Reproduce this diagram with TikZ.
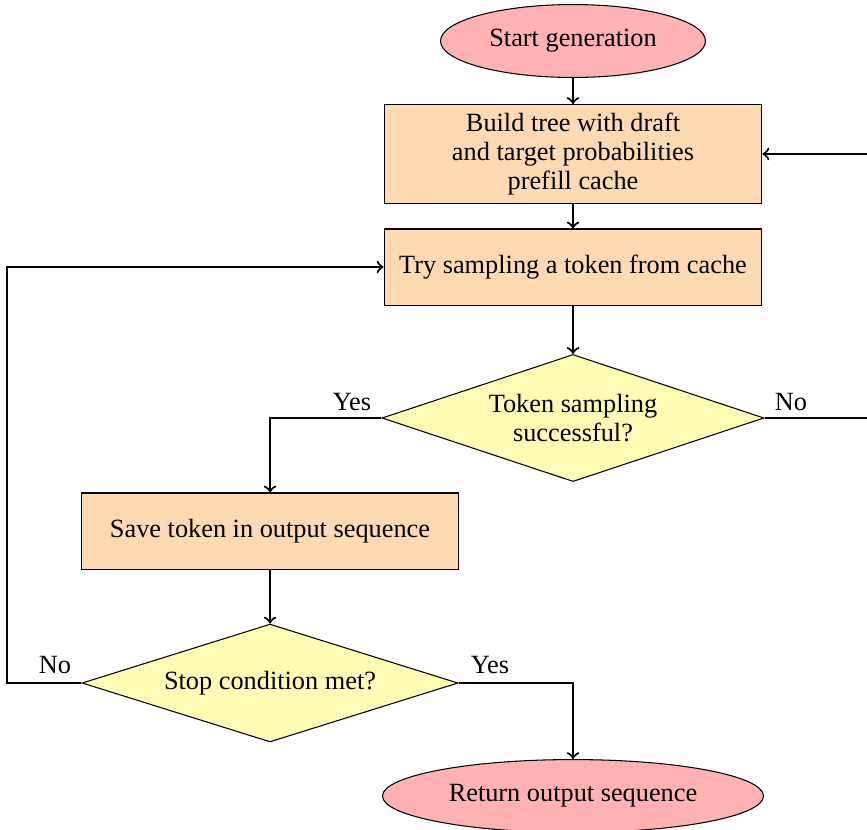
\documentclass[tikz,border=0pt]{standalone}
\usepackage{fontspec}
\setmainfont{Liberation Serif}
\usetikzlibrary{shapes.geometric}
\begin{document}
\begin{tikzpicture}[x=0.38pt,y=-0.38pt,
  term/.style={ellipse,draw,fill=red!30,inner sep=0pt,font=\fontsize{10}{11}\selectfont},
  proc/.style={rectangle,draw,fill=orange!30,inner sep=0pt,align=center,minimum width=143.6pt,font=\fontsize{10}{11}\selectfont},
  dec/.style={diamond,draw,fill=yellow!30,inner sep=0pt,align=center,aspect=3,font=\fontsize{10}{11}\selectfont},
  conn/.style={draw,thick,->},
  lbl/.style={font=\fontsize{10}{11}\selectfont,inner sep=0pt}]
\useasboundingbox (0,0) rectangle (867,829);
\node[term,minimum width=100.7pt,minimum height=27.7pt] (start) at (573,41) {Start generation};
\node[proc,minimum height=37.6pt] (build) at (573,154) {Build tree with draft\\and target probabilities\\prefill cache};
\node[proc,minimum height=28.9pt] (try) at (573,267) {Try sampling a token from cache};
\node[dec,minimum width=145.2pt,minimum height=48.3pt] (d1) at (573,418) {Token sampling\\successful?};
\node[proc,minimum height=28.9pt] (save) at (270,531) {Save token in output sequence};
\node[dec,minimum width=142.9pt,minimum height=44.8pt] (d2) at (270,683) {Stop condition met?};
\node[term,minimum width=144.8pt,minimum height=27.7pt] (ret) at (573,796) {Return output sequence};
\coordinate (rturn) at (875,418);
\coordinate (lturn) at (7,683);
\path[conn] (start) -- (build);
\path[conn] (build) -- (try);
\path[conn] (try) -- (d1);
\path[conn] (d1.west) -| (save.north);
\path[conn] (save) -- (d2);
\path[conn] (d2.east) -| (ret.north);
\path[conn] (d1.east) -- (rturn) |- (build.east);
\path[conn] (d2.west) -- (lturn) |- (try.west);
\node[lbl] (yes1) at (352,402) {Yes};
\node[lbl] (no1) at (791,402) {No};
\node[lbl] (no2) at (55,665) {No};
\node[lbl] (yes2) at (490,665) {Yes};
\end{tikzpicture}
\end{document}
